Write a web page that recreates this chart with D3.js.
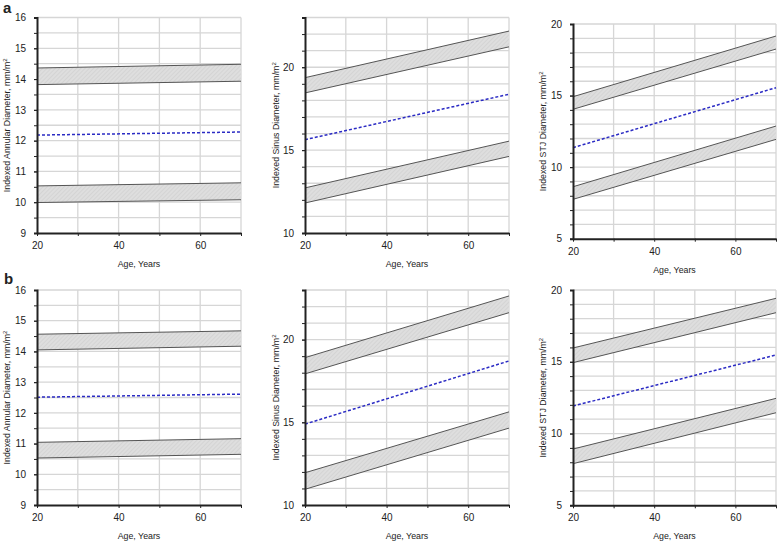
<!DOCTYPE html>
<html>
<head>
<meta charset="utf-8">
<script src="https://cdn.jsdelivr.net/npm/d3@7"></script>
<style>
  body { margin: 0; background: #fff; }
  text { font-family: "Liberation Sans", Arial, sans-serif; fill: #222; }
</style>
</head>
<body>
<div id="chart"></div>
<script>
// Ages where the reference curves are read
const ages = [20, 70];

// Each panel: [upper band top, upper band bottom, mean (dashed), lower band top, lower band bottom]
const aAnnular = [[14.36, 14.48], [13.82, 13.93], [12.18, 12.28], [10.53, 10.63], [9.99, 10.08]];
const aSinus   = [[19.37, 22.18], [18.45, 21.23], [15.63, 18.37], [12.72, 15.54], [11.81, 14.62]];
const aSTJ     = [[14.92, 19.16], [14.04, 18.25], [11.36, 15.55], [8.63, 12.87], [7.75, 11.94]];
const bAnnular = [[14.56, 14.67], [14.05, 14.17], [12.51, 12.61], [11.04, 11.16], [10.53, 10.65]];
const bSinus   = [[18.91, 22.64], [17.93, 21.63], [14.89, 18.71], [11.95, 15.63], [10.95, 14.65]];
const bSTJ     = [[15.96, 19.42], [14.94, 18.42], [11.92, 15.47], [8.92, 12.45], [7.9, 11.45]];

// Axis tick labels
const xTickLabels = [20, 40, 60];
const annularTicks = [9, 10, 11, 12, 13, 14, 15, 16];
const sinusTicks = [10, 15, 20];
const stjTicks = [5, 10, 15, 20];

const width = 778, height = 542;
const svg = d3.select("#chart").append("svg")
    .attr("width", width)
    .attr("height", height);

// hatched fill for the bands
const pat = svg.append("defs").append("pattern")
    .attr("id", "hatch")
    .attr("patternUnits", "userSpaceOnUse")
    .attr("width", 3).attr("height", 3)
    .attr("patternTransform", "rotate(45)");
pat.append("rect").attr("width", 3).attr("height", 3).attr("fill", "#dedede");
pat.append("line").attr("x1", 0).attr("y1", 0).attr("x2", 0).attr("y2", 3)
    .attr("stroke", "#cacaca").attr("stroke-width", 1);

const panels = [
    {data: aAnnular, label: "Indexed Annular Diameter, mm/m", domain: [9, 16], grid: 0.5, ticks: annularTicks,
     left: 37, right: 241, top: 17.5, bottom: 233, labelX: 10},
    {data: aSinus, label: "Indexed Sinus Diameter, mm/m", domain: [10, 23], grid: 1, ticks: sinusTicks,
     left: 305, right: 509, top: 17.5, bottom: 233, labelX: 279},
    {data: aSTJ, label: "Indexed STJ Diameter, mm/m", domain: [5, 20], grid: 1, ticks: stjTicks,
     left: 573, right: 776, top: 24, bottom: 238.7, labelX: 546},
    {data: bAnnular, label: "Indexed Annular Diameter, mm/m", domain: [9, 16], grid: 0.5, ticks: annularTicks,
     left: 37, right: 241, top: 290, bottom: 505, labelX: 10},
    {data: bSinus, label: "Indexed Sinus Diameter, mm/m", domain: [10, 23], grid: 1, ticks: sinusTicks,
     left: 305, right: 509, top: 290, bottom: 505, labelX: 279},
    {data: bSTJ, label: "Indexed STJ Diameter, mm/m", domain: [5, 20], grid: 1, ticks: stjTicks,
     left: 573, right: 776, top: 290, bottom: 505.3, labelX: 546}
];

panels.forEach(p => {
    const x = d3.scaleLinear().domain([20, 70]).range([p.left, p.right]);
    const y = d3.scaleLinear().domain(p.domain).range([p.bottom, p.top]);
    const g = svg.append("g");

    const gridY = d3.range(p.domain[0] + p.grid, p.domain[1] + p.grid / 2, p.grid);
    const gridX = [30, 40, 50, 60, 70];

    // horizontal grid
    g.append("g")
        .selectAll("line")
        .data(gridY)
        .join("line")
        .attr("x1", p.left).attr("x2", p.right)
        .attr("y1", d => y(d)).attr("y2", d => y(d))
        .attr("stroke", "#d6d6d6").attr("stroke-width", 1.3);

    // vertical grid
    g.append("g")
        .selectAll("line")
        .data(gridX)
        .join("line")
        .attr("x1", d => x(d)).attr("x2", d => x(d))
        .attr("y1", p.top).attr("y2", p.bottom)
        .attr("stroke", "#d6d6d6").attr("stroke-width", 1.3);

    // bands
    const bandArea = d3.area()
        .x((d, i) => x(ages[i]))
        .y0(d => y(d[1]))
        .y1(d => y(d[0]));
    const pairs = (hi, lo) => ages.map((a, i) => [hi[i], lo[i]]);
    [[p.data[0], p.data[1]], [p.data[3], p.data[4]]].forEach(([hi, lo]) => {
        g.append("path")
            .datum(pairs(hi, lo))
            .attr("fill", "url(#hatch)")
            .attr("d", bandArea);
    });

    const line = d3.line()
        .x((d, i) => x(ages[i]))
        .y(d => y(d));

    [0, 1, 3, 4].forEach(k => {
        g.append("path")
            .datum(p.data[k])
            .attr("fill", "none")
            .attr("stroke", "#555")
            .attr("stroke-width", 1)
            .attr("d", line);
    });

    // mean (dashed blue)
    g.append("path")
        .datum(p.data[2])
        .attr("fill", "none")
        .attr("stroke", "#2b2bc4")
        .attr("stroke-width", 1.5)
        .attr("stroke-dasharray", "3,2")
        .attr("d", line);

    // Y axis: minor ticks then labelled ticks
    g.append("g")
        .attr("transform", `translate(${p.left},0)`)
        .call(d3.axisLeft(y).tickValues(gridY).tickSize(3).tickFormat(""))
        .call(a => a.select(".domain").remove())
        .call(a => a.selectAll("line").attr("stroke", "#222"));
    g.append("g")
        .attr("transform", `translate(${p.left},0)`)
        .call(d3.axisLeft(y).tickValues(p.ticks).tickSize(3).tickPadding(8).tickFormat(d3.format("d")))
        .call(a => a.select(".domain").attr("stroke", "#222").attr("stroke-width", 2))
        .call(a => a.selectAll("line").attr("stroke", "#222"))
        .call(a => a.selectAll("text").style("font-size", "10px").attr("fill", "#222"));

    // X axis
    g.append("g")
        .attr("transform", `translate(0,${p.bottom})`)
        .call(d3.axisBottom(x).tickValues([20, 30, 40, 50, 60, 70]).tickSize(3).tickFormat(""))
        .call(a => a.select(".domain").remove())
        .call(a => a.selectAll("line").attr("stroke", "#222"));
    g.append("g")
        .attr("transform", `translate(0,${p.bottom})`)
        .call(d3.axisBottom(x).tickValues(xTickLabels).tickSize(0).tickPadding(9).tickFormat(d3.format("d")))
        .call(a => a.select(".domain").attr("stroke", "#222").attr("stroke-width", 2))
        .call(a => a.selectAll("text").style("font-size", "10px").attr("fill", "#222"));

    // axis titles
    g.append("text")
        .attr("x", (p.left + p.right) / 2)
        .attr("y", p.bottom + 34)
        .attr("text-anchor", "middle")
        .style("font-size", "8.8px")
        .text("Age, Years");

    const yl = g.append("text")
        .attr("transform", `translate(${p.labelX},${(p.top + p.bottom) / 2}) rotate(-90)`)
        .attr("text-anchor", "middle")
        .style("font-size", "8.8px");
    yl.append("tspan").text(p.label);
    yl.append("tspan").attr("dy", -3.5).style("font-size", "6px").text("2");
});

// panel letters
svg.append("text").attr("x", 3).attr("y", 13)
    .style("font-size", "15px").style("font-weight", "bold").text("a");
svg.append("text").attr("x", 4).attr("y", 284)
    .style("font-size", "15px").style("font-weight", "bold").text("b");
</script>
</body>
</html>
